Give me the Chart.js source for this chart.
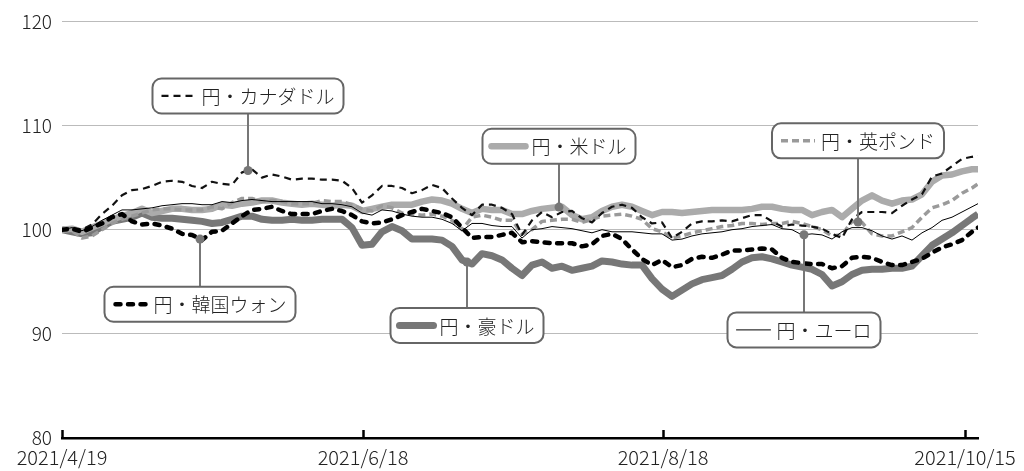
<!DOCTYPE html>
<html>
<head>
<meta charset="utf-8">
<script src="https://cdn.jsdelivr.net/npm/chart.js@4/dist/chart.umd.min.js"></script>
<style>
  html, body { margin: 0; padding: 0; background: #fff; }
  #wrap { width: 1024px; height: 471px; position: relative; }
</style>
</head>
<body>
<div id="wrap"><canvas id="fxChart"></canvas></div>
<script>
// Sample positions (index along the date axis, one step ~ 1.4 business days)
const xIndex = Array.from({ length: 92 }, (_, i) => i).concat([91.6]);

// Date tick labels and where they fall on the index axis
const tickPos = [0, 30.1, 60.1, 90.3];
const tickLabels = ['2021/4/19', '2021/6/18', '2021/8/18', '2021/10/15'];

// y ticks
const yTicks = [80, 90, 100, 110, 120];

// Index series (2021/4/19 = 100)
const cad = [100.0, 100.2, 100.0, 100.5, 101.5, 102.3, 103.3, 103.8, 103.9, 104.2,
  104.6, 104.7, 104.6, 104.2, 104.0, 104.6, 104.4, 104.3, 105.5, 105.8,
  105.0, 105.3, 105.1, 104.8, 104.9, 104.9, 104.8, 104.8, 104.7, 104.0,
  102.6, 103.3, 104.2, 104.2, 104.0, 103.5, 103.8, 104.3, 104.0, 103.0,
  102.1, 101.4, 102.4, 102.4, 102.1, 101.5, 99.5, 100.9, 101.7, 101.2,
  101.7, 101.8, 101.1, 100.7, 101.6, 102.2, 102.4, 102.1, 101.2, 100.6,
  100.7, 99.2, 99.8, 100.6, 100.8, 100.8, 100.9, 100.8, 101.1, 101.4,
  101.4, 100.8, 100.3, 100.5, 100.4, 100.3, 100.1, 99.6, 99.2, 101.0,
  101.7, 101.7, 101.7, 101.6, 102.3, 102.9, 103.4, 105.1, 105.4, 106.1,
  106.8, 107.0, 107.1];

const usd = [100.0, 100.1, 99.8, 100.2, 100.6, 101.0, 101.3, 101.6, 102.0, 101.6,
  101.8, 102.0, 102.0, 101.9, 101.9, 102.0, 102.4, 102.3, 102.5, 102.6,
  102.8, 102.8, 102.6, 102.5, 102.4, 102.5, 102.4, 102.3, 102.4, 102.3,
  101.8, 102.0, 102.2, 102.4, 102.4, 102.4, 102.7, 102.9, 102.8, 102.5,
  102.0, 101.6, 102.0, 101.9, 101.9, 101.5, 101.5, 101.8, 102.0, 102.1,
  102.2, 101.4, 101.0, 101.2, 101.8, 102.2, 102.4, 102.2, 101.8, 101.4,
  101.7, 101.7, 101.6, 101.7, 101.8, 101.9, 101.9, 101.9, 101.9, 102.0,
  102.2, 102.2, 102.0, 101.9, 101.9, 101.4, 101.7, 101.9, 101.2, 102.0,
  102.8, 103.3, 102.8, 102.5, 102.8, 102.9, 103.4, 104.6, 105.2, 105.3,
  105.6, 105.8, 105.8];

const gbp = [100.0, 99.9, 99.2, 99.4, 100.0, 100.6, 101.0, 101.3, 101.6, 101.9,
  102.0, 102.0, 101.9, 101.9, 101.9, 102.2, 102.0, 102.6, 103.0, 103.0,
  102.7, 102.8, 102.7, 102.5, 102.5, 102.5, 102.8, 102.7, 102.7, 102.4,
  102.0, 101.8, 102.3, 102.1, 101.6, 101.5, 101.4, 101.5, 101.3, 100.9,
  100.0, 101.2, 101.4, 101.2, 100.9, 100.9, 99.6, 100.0, 100.8, 100.9,
  101.0, 101.0, 100.7, 101.0, 101.3, 101.4, 101.5, 101.3, 101.0, 100.1,
  99.8, 99.2, 99.4, 99.7, 99.9, 100.1, 100.3, 100.4, 100.6, 100.6,
  100.5, 100.6, 100.6, 100.8, 100.6, 100.3, 100.0, 99.4, 99.5, 100.8,
  100.7, 99.6, 99.4, 99.4, 99.8, 100.2, 101.2, 102.1, 102.4, 102.8,
  103.5, 104.0, 104.4];

const krw = [100.0, 100.1, 99.8, 100.2, 100.6, 101.2, 101.5, 100.8, 100.5, 100.6,
  100.4, 100.1, 99.6, 99.5, 99.0, 99.8, 99.9, 100.6, 101.3, 101.9,
  102.0, 102.2, 101.8, 101.5, 101.5, 101.5, 101.8, 102.0, 101.8, 101.4,
  100.8, 100.6, 100.7, 101.0, 101.4, 101.7, 102.0, 101.8, 101.6, 101.2,
  100.2, 99.2, 99.3, 99.3, 99.5, 99.7, 98.8, 98.9, 98.8, 98.7,
  98.7, 98.7, 98.4, 98.6, 99.4, 99.6, 99.1, 98.1, 97.2, 96.6,
  97.1, 96.4, 96.6, 97.2, 97.4, 97.3, 97.6, 98.0, 98.0, 98.1,
  98.2, 98.1, 97.3, 96.9, 96.8, 96.7, 96.7, 96.3, 96.5, 97.3,
  97.4, 97.3, 96.9, 96.6, 96.6, 96.9, 97.2, 97.8, 98.3, 98.6,
  99.0, 99.8, 100.2];

const aud = [100.0, 99.8, 99.6, 99.7, 100.3, 100.8, 101.0, 101.2, 101.6, 101.2,
  101.1, 101.1, 101.0, 100.9, 100.8, 100.6, 100.7, 101.0, 101.3, 101.3,
  101.0, 100.9, 100.9, 101.0, 100.9, 100.9, 101.0, 101.0, 101.0, 100.2,
  98.5, 98.6, 99.8, 100.3, 99.9, 99.1, 99.1, 99.1, 99.0, 98.4,
  97.1, 96.7, 97.7, 97.5, 97.1, 96.3, 95.6, 96.6, 96.9, 96.3,
  96.5, 96.1, 96.3, 96.5, 97.0, 96.9, 96.7, 96.6, 96.6, 95.3,
  94.3, 93.6, 94.2, 94.8, 95.2, 95.4, 95.6, 96.2, 96.9, 97.3,
  97.4, 97.2, 96.9, 96.6, 96.4, 96.2, 95.7, 94.6, 95.0, 95.7,
  96.1, 96.2, 96.2, 96.3, 96.3, 96.5, 97.5, 98.5, 99.1, 99.7,
  100.4, 101.1, 101.5];

const eur = [100.0, 100.2, 99.9, 100.3, 100.9, 101.4, 101.9, 101.9, 102.0, 102.1,
  102.3, 102.4, 102.5, 102.5, 102.4, 102.4, 102.7, 102.6, 102.8, 102.9,
  102.8, 102.7, 102.7, 102.7, 102.7, 102.7, 102.5, 102.5, 102.4, 102.2,
  101.6, 101.4, 101.9, 101.8, 101.5, 101.3, 101.2, 101.2, 101.0, 100.6,
  99.9, 100.6, 100.6, 100.4, 100.3, 100.3, 99.2, 100.0, 100.1, 100.3,
  100.2, 100.1, 99.9, 99.7, 100.0, 99.8, 99.8, 99.8, 99.7, 99.6,
  99.6, 99.0, 99.1, 99.4, 99.6, 99.7, 99.8, 100.0, 100.1, 100.3,
  100.4, 100.5, 100.1, 100.0, 99.5, 99.6, 99.5, 99.1, 99.8, 100.2,
  100.2, 99.9, 99.4, 99.1, 99.4, 99.0, 99.7, 100.2, 100.9, 101.2,
  101.7, 102.2, 102.5];

// Series names (Japanese, as in the original)
const names = {
  cad: '円・カナダドル', usd: '円・米ドル', gbp: '円・英ポンド',
  krw: '円・韓国ウォン', aud: '円・豪ドル', eur: '円・ユーロ'
};

const FONT = '"Noto Sans CJK JP", "Noto Sans", sans-serif';

const styles = {
  eur: { color: '#000', width: 1, dash: [] },
  krw: { color: '#000', width: 4.5, dash: [5, 7.5], cap: 'round' },
  cad: { color: '#111', width: 2.2, dash: [7, 5] },
  gbp: { color: '#9a9a9a', width: 3.5, dash: [7, 4] },
  usd: { color: '#ababab', width: 6.5, dash: [] },
  aud: { color: '#777', width: 7, dash: [] }
};
const seriesData = { cad, usd, gbp, krw, aud, eur };
const drawOrder = ['eur', 'krw', 'cad', 'gbp', 'usd', 'aud'];

// callouts: which series, where on it (index), box centre level (y value)
const callouts = [
  { key: 'cad', at: 18.6, boxY: 112.84 },
  { key: 'usd', at: 49.7, boxY: 108.01 },
  { key: 'gbp', at: 79.6, boxY: 108.53 },
  { key: 'krw', at: 13.8, boxY: 92.84 },
  { key: 'aud', at: 40.5, boxY: 90.81 },
  { key: 'eur', at: 74.2, boxY: 90.38 }
];

function valueAt(arr, at) {
  const i = Math.floor(at);
  const f = at - i;
  if (i + 1 >= arr.length) return arr[arr.length - 1];
  return arr[i] + (arr[i + 1] - arr[i]) * f;
}

function roundRect(ctx, x, y, w, h, r) {
  ctx.beginPath();
  ctx.moveTo(x + r, y);
  ctx.lineTo(x + w - r, y);
  ctx.arcTo(x + w, y, x + w, y + r, r);
  ctx.lineTo(x + w, y + h - r);
  ctx.arcTo(x + w, y + h, x + w - r, y + h, r);
  ctx.lineTo(x + r, y + h);
  ctx.arcTo(x, y + h, x, y + h - r, r);
  ctx.lineTo(x, y + r);
  ctx.arcTo(x, y, x + r, y, r);
  ctx.closePath();
}

// upward tick marks on the x axis
const xTickMarks = {
  id: 'xTickMarks',
  afterDraw(chart) {
    const { ctx, scales: { x }, chartArea } = chart;
    ctx.save();
    ctx.strokeStyle = '#000';
    ctx.lineWidth = 2.5;
    tickPos.forEach(v => {
      const px = Math.round(x.getPixelForValue(v)) + 0.5;
      ctx.beginPath();
      ctx.moveTo(px, chartArea.bottom);
      ctx.lineTo(px, chartArea.bottom - 8);
      ctx.stroke();
    });
    ctx.restore();
  }
};

// legend callouts with leader lines
const calloutPlugin = {
  id: 'callouts',
  afterDraw(chart) {
    const { ctx, scales: { x, y } } = chart;
    ctx.save();
    ctx.font = '300 19px ' + FONT;
    callouts.forEach(c => {
      const st = styles[c.key];
      const mx = x.getPixelForValue(c.at);
      const my = y.getPixelForValue(valueAt(seriesData[c.key], c.at));
      const by = y.getPixelForValue(c.boxY);
      const text = names[c.key];
      const tw = ctx.measureText(text).width;
      const sampleLen = 34;
      const w = 8 + sampleLen + 7 + tw + 9;
      const h = 35;
      const bx = mx - w / 2;
      const top = by - h / 2;

      // leader
      ctx.strokeStyle = '#777';
      ctx.lineWidth = 2;
      ctx.setLineDash([]);
      ctx.beginPath();
      ctx.moveTo(mx, my);
      ctx.lineTo(mx, by < my ? top + h : top);
      ctx.stroke();
      ctx.fillStyle = '#777';
      ctx.beginPath();
      ctx.arc(mx, my, 4.5, 0, Math.PI * 2);
      ctx.fill();

      // box
      roundRect(ctx, bx, top, w, h, 9);
      ctx.fillStyle = '#fff';
      ctx.fill();
      ctx.strokeStyle = '#666';
      ctx.lineWidth = 2;
      ctx.stroke();

      // sample line
      ctx.strokeStyle = st.color;
      ctx.lineWidth = st.width;
      ctx.lineCap = st.cap || (st.dash.length ? 'butt' : 'round');
      ctx.setLineDash(st.dash);
      ctx.beginPath();
      ctx.moveTo(bx + 9 + (st.cap ? 2 : 0), by);
      ctx.lineTo(bx + 9 + sampleLen, by);
      ctx.stroke();
      ctx.setLineDash([]);
      ctx.lineCap = 'butt';

      ctx.fillStyle = '#222';
      ctx.textBaseline = 'middle';
      ctx.textAlign = 'left';
      ctx.fillText(text, bx + 8 + sampleLen + 7, by + 1);
    });
    ctx.restore();
  }
};

const datasets = drawOrder.map(k => ({
  label: names[k],
  data: xIndex.map((xv, i) => ({ x: xv, y: seriesData[k][i] })),
  borderColor: styles[k].color,
  borderWidth: styles[k].width,
  borderDash: styles[k].dash,
  borderCapStyle: styles[k].cap || 'butt',
  borderJoinStyle: 'round',
  pointRadius: 0,
  tension: 0,
  fill: false
}));

new Chart(document.getElementById('fxChart'), {
  type: 'line',
  data: { datasets },
  options: {
    responsive: true,
    maintainAspectRatio: false,
    animation: false,
    layout: { padding: { top: 17, right: 46, left: 0, bottom: 0 } },
    plugins: { legend: { display: false }, tooltip: { enabled: false } },
    scales: {
      x: {
        type: 'linear',
        min: 0,
        max: 91.6,
        afterBuildTicks: s => { s.ticks = tickPos.map(v => ({ value: v })); },
        afterFit: s => { s.height = 33; },
        grid: { display: false, drawTicks: false },
        border: { display: true, color: '#000', width: 2.5 },
        ticks: {
          autoSkip: false,
          maxRotation: 0,
          padding: 7,
          color: '#222',
          font: { family: FONT, size: 20, weight: '300' },
          callback: (v) => {
            const i = tickPos.indexOf(v);
            return i >= 0 ? tickLabels[i] : '';
          }
        }
      },
      y: {
        min: 80,
        max: 120,
        afterBuildTicks: s => { s.ticks = yTicks.map(v => ({ value: v })); },
        afterFit: s => { s.width = 62; },
        border: { display: false },
        grid: {
          drawTicks: false,
          color: ctx => (ctx.tick && ctx.tick.value === 80 ? 'rgba(0,0,0,0)' : '#bbb'),
          lineWidth: 1
        },
        ticks: {
          padding: 10,
          color: '#222',
          font: { family: FONT, size: 19, weight: '300' }
        }
      }
    }
  },
  plugins: [xTickMarks, calloutPlugin]
});
</script>
</body>
</html>
